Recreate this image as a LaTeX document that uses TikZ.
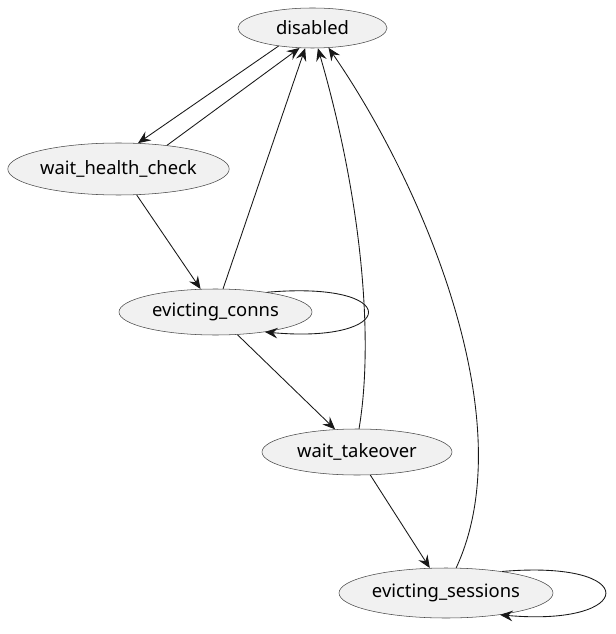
\documentclass[tikz,border=0pt]{standalone}
\usepackage{fontspec}
\setmainfont{Noto Sans}
\usetikzlibrary{shapes.geometric,arrows.meta}
\definecolor{stFill}{HTML}{F1F1F1}
\definecolor{stLine}{HTML}{181818}

\begin{document}
\begin{tikzpicture}[x=0.75pt,y=-0.75pt,
  state/.style={ellipse,draw=stLine!80,line width=0.4pt,fill=stFill,inner sep=0pt,
    font=\fontsize{13.8}{16}\selectfont},
  trans/.style={-{Stealth[length=9.5pt,width=8pt,inset=3.4pt]},line width=0.65pt,color=stLine}]
\useasboundingbox (0,0) rectangle (616,634);
\node[state,minimum width=111.75pt,minimum height=30pt] (disabled) at (312.5,28) {disabled};
\node[state,minimum width=165.75pt,minimum height=39pt] (wait_health_check) at (118.5,169) {wait\_health\_check};
\node[state,minimum width=144.75pt,minimum height=34.5pt] (evicting_conns) at (215.5,312) {evicting\_conns};
\node[state,minimum width=142.5pt,minimum height=34.5pt] (wait_takeover) at (357,452) {wait\_takeover};
\node[state,minimum width=160.5pt,minimum height=37.5pt] (evicting_sessions) at (446,593) {evicting\_sessions};
\path[trans]
  (disabled.208) edge (wait_health_check.53)
  (wait_health_check.26) edge (disabled.237)
  (wait_health_check.305) edge (evicting_conns.123)
  (evicting_conns.72) edge (disabled.250)
  (evicting_conns.314) edge (wait_takeover.134)
  (wait_takeover.300) edge (evicting_sessions.123);
\draw[trans] (evicting_conns.21) .. controls +(137,-12) and +(134,12) .. (evicting_conns.338);
\draw[trans] (wait_takeover.85) .. controls (374,340) and (362,200) .. (disabled.285);
\draw[trans] (evicting_sessions.68) .. controls (525,420) and (420,180) .. (disabled.309);
\draw[trans] (evicting_sessions.21) .. controls +(141,-12) and +(136,12) .. (evicting_sessions.338);
\end{tikzpicture}
\end{document}
